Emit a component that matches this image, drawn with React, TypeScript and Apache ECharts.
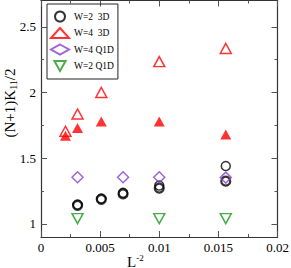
import React, { useEffect, useRef } from "react";
import * as echarts from "echarts";

const xTicks = [0, 0.005, 0.01, 0.015, 0.02];
const yTicks = [1, 1.5, 2, 2.5];
const yMinorTicks = [1.25, 1.75, 2.25];

const w2_3d_open: [number, number][] = [
  [0.00309, 1.147], [0.0051, 1.193], [0.00694, 1.237], [0.01, 1.292], [0.015625, 1.44],
];
const w2_3d_bold: [number, number][] = [
  [0.00309, 1.14], [0.0051, 1.186], [0.00694, 1.228], [0.01, 1.272], [0.015625, 1.325],
];
const w4_3d_open: [number, number][] = [
  [0.00207, 1.705], [0.00309, 1.836], [0.0051, 2.0], [0.01, 2.235], [0.015625, 2.335],
];
const w4_3d_filled: [number, number][] = [
  [0.00207, 1.67], [0.00309, 1.73], [0.0051, 1.78], [0.01, 1.78], [0.015625, 1.68],
];
const w4_q1d: [number, number][] = [
  [0.00309, 1.355], [0.00694, 1.355], [0.01, 1.355], [0.015625, 1.352],
];
const w2_q1d: [number, number][] = [
  [0.00309, 1.04], [0.01, 1.04], [0.015625, 1.04],
];

const FONT = "'Liberation Serif', 'DejaVu Serif', serif";
const DOWN_TRI = "path://M0,0 L10,0 L5,9 Z";

export default function App() {
  const ref = useRef<HTMLDivElement>(null);
  useEffect(() => {
    if (!ref.current) return;
    const c = echarts.init(ref.current, undefined, { renderer: "svg" });
    const lineCol = "#333";
    const axisLine = { show: true, lineStyle: { color: lineCol, width: 1.2 } };
    const tick = { show: true, inside: true, length: 6, lineStyle: { color: "#555" } };
    const minor = { show: true, splitNumber: 2, length: 3, lineStyle: { color: "#555" } };
    const hollow = (col: string) => ({ color: "transparent", borderColor: col, borderWidth: 1.5 });
    const yBase = { type: "value", min: 0.9, max: 2.7, splitLine: { show: false } };
    c.setOption({
      animation: false,
      backgroundColor: "#fff",
      grid: {
        left: 41, right: 13.5, top: 0.5, bottom: 31,
        containLabel: false, outerBoundsMode: "none",
      },
      legend: {
        orient: "vertical",
        left: 47,
        top: 4,
        padding: [6.5, 4, 7, 3],
        borderColor: "#222",
        borderWidth: 1,
        itemGap: 4.5,
        itemWidth: 18,
        itemHeight: 10,
        textStyle: { fontFamily: FONT, fontSize: 9.5, color: "#000", lineHeight: 10 },
        data: ["W=2  3D", "W=4  3D", "W=4 Q1D", "W=2 Q1D"],
      },
      xAxis: [
        {
          type: "value", min: 0, max: 0.02, interval: 0.005,
          axisLine, axisTick: tick, minorTick: minor, splitLine: { show: false },
          axisLabel: {
            fontFamily: FONT, fontSize: 13, color: "#000", margin: 4,
            formatter: (v: number) => {
              const r = +v.toFixed(4);
              return xTicks.includes(r) ? String(r) : "";
            },
          },
        },
        {
          type: "value", position: "top", min: 0, max: 0.02, interval: 0.005,
          axisLine, axisTick: tick, minorTick: minor, splitLine: { show: false },
          axisLabel: { show: false },
        },
      ],
      yAxis: [
        {
          ...yBase, position: "left", axisLine,
          axisTick: { ...tick, customValues: yTicks },
          axisLabel: {
            customValues: yTicks, fontFamily: FONT, fontSize: 13, color: "#000", margin: 5,
            formatter: (v: number) => String(+v.toFixed(2)),
          },
        },
        {
          ...yBase, position: "left", axisLine: { show: false },
          axisTick: { ...tick, length: 3, customValues: yMinorTicks },
          axisLabel: { show: false },
        },
        {
          ...yBase, position: "right", axisLine,
          axisTick: { ...tick, customValues: yTicks },
          axisLabel: { show: false },
        },
        {
          ...yBase, position: "right", axisLine: { show: false },
          axisTick: { ...tick, length: 3, customValues: yMinorTicks },
          axisLabel: { show: false },
        },
      ],
      graphic: [
        {
          type: "text", x: 10, y: 103, rotation: Math.PI / 2,
          style: {
            text: "(N+1)K{s|11}/2", fontFamily: FONT, fontSize: 15, fill: "#000",
            align: "center", verticalAlign: "middle",
            rich: { s: { fontFamily: FONT, fontSize: 10, padding: [7, 0, 0, 0] } },
          },
        },
        {
          type: "text", left: 127, top: 253,
          style: {
            text: "L{s|-2}", fontFamily: FONT, fontSize: 15, fill: "#000",
            rich: { s: { fontFamily: FONT, fontSize: 9, padding: [0, 0, 8, 0] } },
          },
        },
      ],
      series: [
        {
          name: "W=2  3D", type: "scatter", data: w2_3d_bold, symbol: "circle", symbolSize: 9,
          itemStyle: { color: "transparent", borderColor: "#000", borderWidth: 2.2 },
        },
        {
          name: "W=2  3D", type: "scatter", data: w2_3d_open, symbol: "circle", symbolSize: 9,
          itemStyle: hollow("#000"),
        },
        {
          name: "W=4  3D", type: "scatter", data: w4_3d_open, symbol: "triangle", symbolSize: [11, 10],
          itemStyle: hollow("#ff0000"),
        },
        {
          name: "W=4  3D filled", type: "scatter", data: w4_3d_filled, symbol: "triangle", symbolSize: [11, 10],
          itemStyle: { color: "#ff0000" },
        },
        {
          name: "W=4 Q1D", type: "scatter", data: w4_q1d, symbol: "diamond", symbolSize: [11, 11],
          itemStyle: hollow("#8a3fd1"),
        },
        {
          name: "W=2 Q1D", type: "scatter", data: w2_q1d, symbol: DOWN_TRI, symbolSize: [11, 10],
          itemStyle: hollow("#1c9a1c"),
        },
      ],
    });
    return () => c.dispose();
  }, []);
  return <div ref={ref} style={{ width: 291, height: 268, position: "absolute", left: 0, top: 0 }} />;
}
